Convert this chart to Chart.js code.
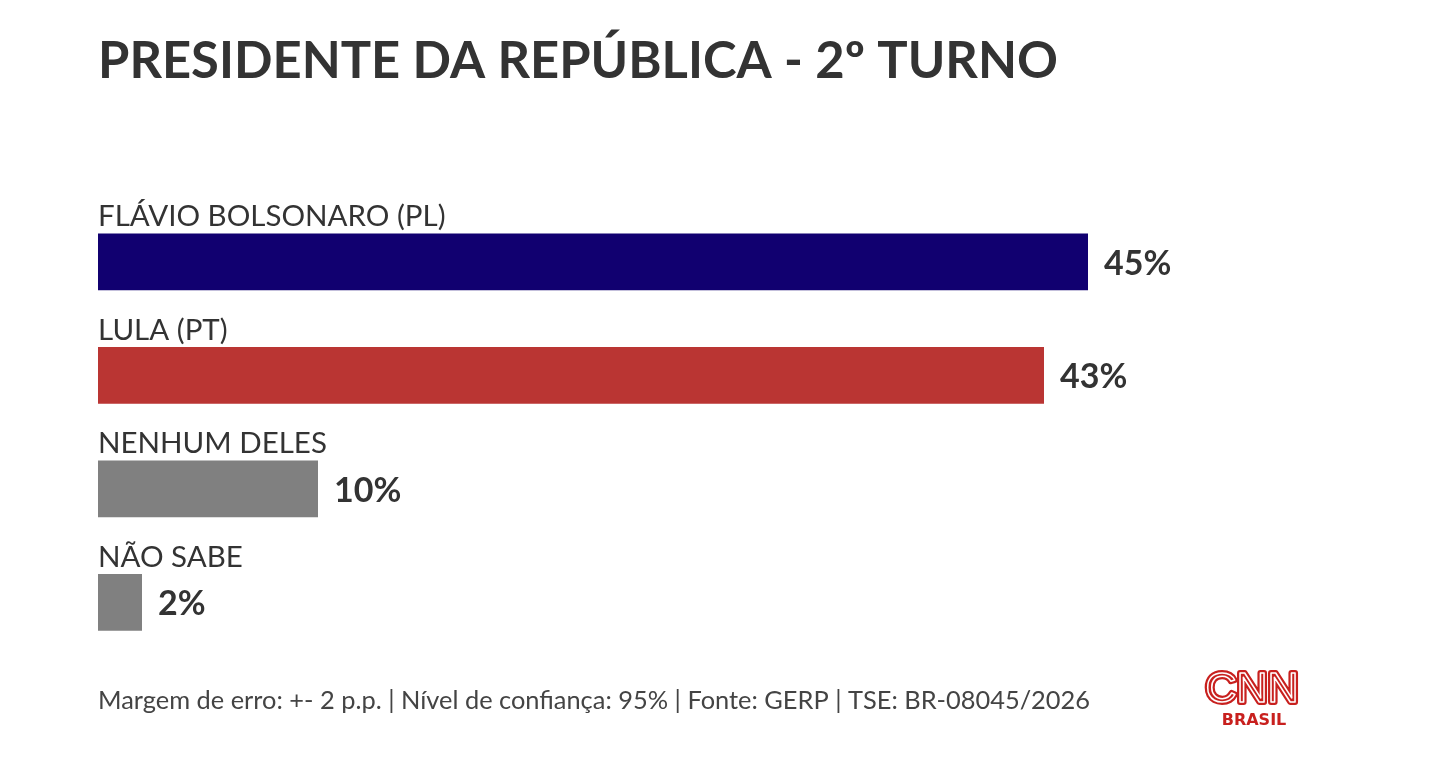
<!DOCTYPE html>
<html lang="pt-BR">
<head>
  <meta charset="UTF-8">
  <title>Presidente da República - 2º turno</title>
  <script src="https://cdn.jsdelivr.net/npm/chart.js"></script>
  <style>
    html, body { margin: 0; padding: 0; background: #fff; }
    #wrap { width: 1440px; height: 770px; position: relative; }
  </style>
</head>
<body>
<div id="wrap"><canvas id="chart"></canvas></div>
<script>
  // dados da pesquisa
  const categories = ['FLÁVIO BOLSONARO (PL)', 'LULA (PT)', 'NENHUM DELES', 'NÃO SABE'];
  const values = [45, 43, 10, 2];
  const barColors = ['#110070', '#ba3533', '#808080', '#808080'];

  const titleText = 'PRESIDENTE DA REPÚBLICA - 2º TURNO';
  const footerText = 'Margem de erro: +- 2 p.p. | Nível de confiança: 95% | Fonte: GERP | TSE: BR-08045/2026';

  const textColor = '#333333';
  const fontFamily = 'Lato, "Open Sans", sans-serif';

  // rótulos, título e rodapé
  const labelsPlugin = {
    id: 'labels',
    afterDatasetsDraw(chart) {
      const ctx = chart.ctx;
      const meta = chart.getDatasetMeta(0);
      ctx.save();
      meta.data.forEach((bar, i) => {
        const top = bar.y - bar.height / 2;
        ctx.fillStyle = textColor;
        ctx.textAlign = 'left';
        ctx.textBaseline = 'alphabetic';
        ctx.font = '400 29.5px ' + fontFamily;
        ctx.fillText(categories[i], chart.chartArea.left, top - 7);

        ctx.font = '700 34px ' + fontFamily;
        ctx.textBaseline = 'middle';
        ctx.fillText(values[i] + '%', bar.x + 16, bar.y + 2);
      });

      // título
      ctx.textBaseline = 'alphabetic';
      ctx.font = '700 50.7px ' + fontFamily;
      ctx.fillStyle = textColor;
      ctx.fillText(titleText, 98, 78);

      // rodapé
      ctx.font = '400 25.4px ' + fontFamily;
      ctx.fillStyle = '#444444';
      ctx.fillText(footerText, 98, 709);

      // logo
      ctx.textAlign = 'center';
      ctx.lineJoin = 'round';
      ctx.font = '400 43px "Liberation Sans Narrow", sans-serif';
      ctx.strokeStyle = '#c8201e';
      ctx.lineWidth = 6;
      ctx.strokeText('CNN', 1252, 702);
      ctx.strokeStyle = '#ffffff';
      ctx.lineWidth = 1.5;
      ctx.strokeText('CNN', 1252, 702);
      ctx.fillStyle = '#c8201e';
      ctx.font = '700 16px "DejaVu Sans", sans-serif';
      ctx.fillText('BRASIL', 1254, 725);
      ctx.restore();
    }
  };

  new Chart(document.getElementById('chart'), {
    type: 'bar',
    data: {
      labels: categories,
      datasets: [{
        data: values,
        backgroundColor: barColors,
        borderWidth: 0,
        barPercentage: 1,
        categoryPercentage: 0.5
      }]
    },
    options: {
      indexAxis: 'y',
      responsive: true,
      maintainAspectRatio: false,
      animation: false,
      layout: {
        padding: { left: 98, right: 22, top: 205, bottom: 111 }
      },
      plugins: {
        legend: { display: false },
        tooltip: { enabled: false },
        title: { display: false }
      },
      scales: {
        x: { display: false, min: 0, max: 60 },
        y: { display: false }
      }
    },
    plugins: [labelsPlugin]
  });
</script>
</body>
</html>
